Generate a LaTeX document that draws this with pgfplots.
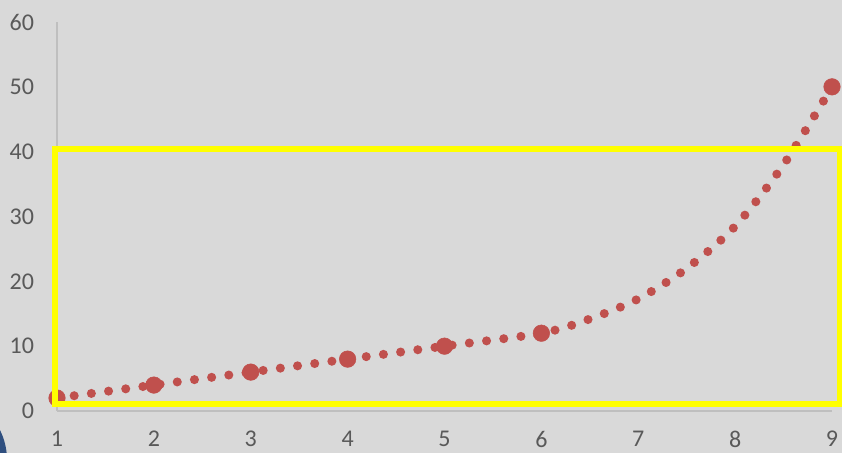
\documentclass[border=0pt]{standalone}
\usepackage{fontspec}
\setmainfont{Carlito}
\usepackage{pgfplots}
\pgfplotsset{compat=1.18}
\definecolor{bg}{HTML}{D9D9D9}
\definecolor{ser}{HTML}{C0504D}
\definecolor{lbl}{HTML}{595959}
\definecolor{axl}{HTML}{BFBFBF}
\definecolor{hl}{HTML}{FFFF00}
\definecolor{blob}{HTML}{2F4F7F}

\begin{document}
\begin{tikzpicture}
% 1px = 0.75pt, picture 842x453 px
\useasboundingbox (0,0) rectangle (631.5pt,339.75pt);
\fill[bg] (0,0) rectangle (631.5pt,339.75pt);
\begin{scope}
  \clip (0,0) rectangle (631.5pt,339.75pt);
  \fill[blob] (-45pt,-5.25pt) circle[radius=50.25pt];
\end{scope}

\begin{axis}[
    at={(42.75pt,31.5pt)}, anchor=south west,
    scale only axis, width=581.25pt, height=291.75pt,
    xmin=1, xmax=9, ymin=0, ymax=60,
    xtick={1,...,9}, ytick={0,10,...,60},
    axis lines=left, axis line style={-, axl, line width=1pt},
    major tick length=0pt,
    clip=false,
    tick label style={font=\fontsize{18}{20}\selectfont, text=lbl},
    /pgf/number format/assume math mode=true,
    yticklabel style={anchor=east, inner sep=0pt, xshift=-17pt},
    xticklabel style={anchor=north, inner sep=0pt, yshift=-15pt},
]
% smoothed trend
\addplot[ser, smooth, line width=6.8pt, line cap=round,
         dash pattern=on 0pt off 13pt] coordinates {
  (1,2) (2,4) (3,6) (4,8) (5,10) (6,12) (6.5,14.2) (7,17.3)
  (7.5,22) (8,28.5) (8.5,38) (9,50)
};
% data points
\addplot[only marks, mark=*, mark size=6.2pt, ser] coordinates {
  (1,2) (2,4) (3,6) (4,8) (5,10) (6,12) (9,50)
};
\end{axis}

\draw[hl, line width=4.5pt] (41.25pt,36.75pt) rectangle (630pt,228pt);
\end{tikzpicture}
\end{document}
